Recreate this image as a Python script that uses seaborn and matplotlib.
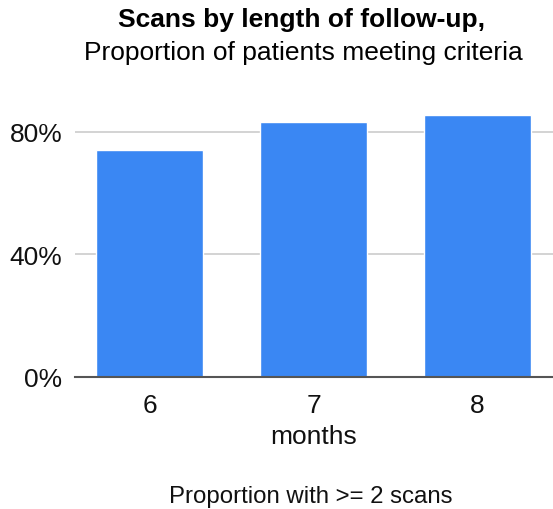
import matplotlib
matplotlib.use("Agg")
import matplotlib.pyplot as plt
import pandas as pd
import seaborn as sns
from matplotlib.ticker import PercentFormatter

months = ["6", "7", "8"]
proportion = [0.740, 0.832, 0.855]
y_ticks = [0.0, 0.4, 0.8]

title = "Scans by length of follow-up,"
subtitle = "Proportion of patients meeting criteria"
x_label = "months"
series_label = "Proportion with >= 2 scans"

BAR_COLOR = "#3a87f3"

df = pd.DataFrame({"months": months, "proportion": proportion})

sns.set_style("white")
plt.rcParams["font.family"] = ["Liberation Sans", "DejaVu Sans"]

fig = plt.figure(figsize=(5.53, 5.10), dpi=100)
ax = fig.add_axes([0.1356, 0.2594, 0.8644, 0.5406])

sns.barplot(data=df, x="months", y="proportion", color=BAR_COLOR,
            saturation=1, width=0.652, ax=ax)

ax.set_xlim(-0.454, 2.46)
ax.set_ylim(0, 0.9)
ax.set_yticks(y_ticks)
ax.yaxis.set_major_formatter(PercentFormatter(1.0, decimals=0))
ax.grid(True, axis="y", color="#cccccc", linewidth=1.2)
ax.set_axisbelow(True)
for side in ["top", "right", "left"]:
    ax.spines[side].set_visible(False)
ax.spines["bottom"].set_color("#555555")
ax.spines["bottom"].set_linewidth(1.5)
ax.spines["bottom"].set_zorder(5)

ax.tick_params(axis="both", length=0, labelsize=19, labelcolor="#111111")
ax.tick_params(axis="x", pad=12)
ax.tick_params(axis="y", pad=9)
ax.set_xlabel(x_label, fontsize=19, color="#111111", labelpad=5)
ax.set_ylabel("")

fig.text(0.546, 0.961, title, ha="center", va="center", fontsize=19,
         fontweight="bold", color="#000000")
fig.text(0.549, 0.896, subtitle, ha="center", va="center", fontsize=19,
         color="#000000")
fig.text(0.562, 0.025, series_label, ha="center", va="center", fontsize=17.3,
         color="#111111")

fig.savefig("out.png", dpi=100)
